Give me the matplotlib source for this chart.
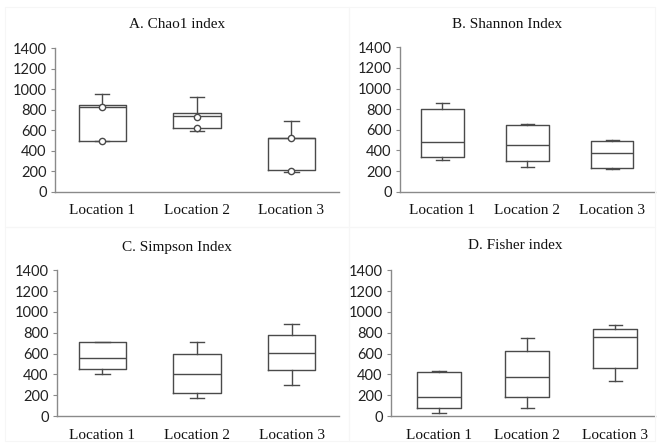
import matplotlib
matplotlib.use("Agg")
import matplotlib.pyplot as plt
from matplotlib.patches import Rectangle

# ---- data ----
locations = ["Location 1", "Location 2", "Location 3"]
titles = ["A. Chao1 index", "B. Shannon Index", "C. Simpson Index", "D. Fisher index"]

chao_lo = [496, 590, 197]
chao_q1 = [496, 622, 213]
chao_med = [823, 735, 525]
chao_q3 = [848, 768, 525]
chao_hi = [955, 926, 690]
chao_points = [[823, 496], [729, 622], [525, 203]]

shannon_lo = [309, 238, 216]
shannon_q1 = [341, 293, 232]
shannon_med = [480, 451, 377]
shannon_q3 = [800, 642, 493]
shannon_hi = [858, 658, 503]

simpson_lo = [406, 170, 297]
simpson_q1 = [454, 221, 444]
simpson_med = [553, 406, 605]
simpson_q3 = [713, 595, 781]
simpson_hi = [713, 713, 883]

fisher_lo = [32, 77, 339]
fisher_q1 = [77, 186, 464]
fisher_med = [186, 378, 762]
fisher_q3 = [422, 627, 838]
fisher_hi = [432, 746, 870]

yticks = [0, 200, 400, 600, 800, 1000, 1200, 1400]

BOX_COL = "#4a4a4a"
AX_COL = "#8a8a8a"
SERIF = "Liberation Serif"
SANS = "Lato"

# axes rectangles (figure fraction) and panel layout
axes_rects = [
    [0.0833, 0.5666, 0.430, 0.325],
    [0.606, 0.5673, 0.386, 0.326],
    [0.0864, 0.0609, 0.427, 0.329],
    [0.5924, 0.0609, 0.400, 0.329],
]
xlims = [(0.5, 3.5), (0.5, 3.5), (0.52, 3.5), (0.455, 3.45)]
title_pos = [(0.268, 0.9436), (0.768, 0.9436), (0.268, 0.4424), (0.780, 0.4447)]
panel_boxes = [(5, 7, 344, 220), (349, 7, 306, 220), (5, 227, 344, 214), (349, 227, 306, 214)]

fig = plt.figure(figsize=(6.6, 4.43), dpi=100)

# very faint panel frames
for (x, y, w, h) in panel_boxes:
    fig.patches.append(Rectangle((x / 660, 1 - (y + h) / 443), w / 660, h / 443,
                                 transform=fig.transFigure, fill=False,
                                 edgecolor="#f6f6f6", linewidth=0.8))

panels = [
    (chao_lo, chao_q1, chao_med, chao_q3, chao_hi),
    (shannon_lo, shannon_q1, shannon_med, shannon_q3, shannon_hi),
    (simpson_lo, simpson_q1, simpson_med, simpson_q3, simpson_hi),
    (fisher_lo, fisher_q1, fisher_med, fisher_q3, fisher_hi),
]

for i, (lo, q1, med, q3, hi) in enumerate(panels):
    ax = fig.add_axes(axes_rects[i])
    stats = [dict(whislo=lo[k], q1=q1[k], med=med[k], q3=q3[k], whishi=hi[k], label=locations[k])
             for k in range(3)]
    line = dict(color=BOX_COL, linewidth=1.0)
    ax.bxp(stats, positions=[1, 2, 3], widths=0.5, capwidths=0.15, showfliers=False,
           boxprops=line, whiskerprops=line, capprops=line, medianprops=line)

    if i == 0:
        for k, pts in enumerate(chao_points):
            ax.plot([k + 1] * len(pts), pts, "o", markersize=4.5, markerfacecolor="white",
                    markeredgecolor=BOX_COL, markeredgewidth=1.0, zorder=5)

    ax.set_xlim(*xlims[i])
    ax.set_ylim(0, 1400)
    ax.set_yticks(yticks)
    ax.set_xticks([1, 2, 3])
    ax.set_xticklabels(locations, fontfamily=SERIF, fontsize=11, color="#111111")
    ax.set_yticklabels([str(t) for t in yticks], fontfamily=SANS, fontsize=10.5, color="#222222")
    ax.tick_params(axis="x", length=0, pad=9)
    ax.tick_params(axis="y", length=3, width=0.8, color=AX_COL, pad=3)
    for s in ["top", "right"]:
        ax.spines[s].set_visible(False)
    for s in ["left", "bottom"]:
        ax.spines[s].set_color(AX_COL)
        ax.spines[s].set_linewidth(1.0)
    ax.patch.set_alpha(0)

    fig.text(title_pos[i][0], title_pos[i][1], titles[i], ha="center", va="center",
             fontfamily=SERIF, fontsize=11, color="#111111")

fig.savefig("out.png", dpi=100)
